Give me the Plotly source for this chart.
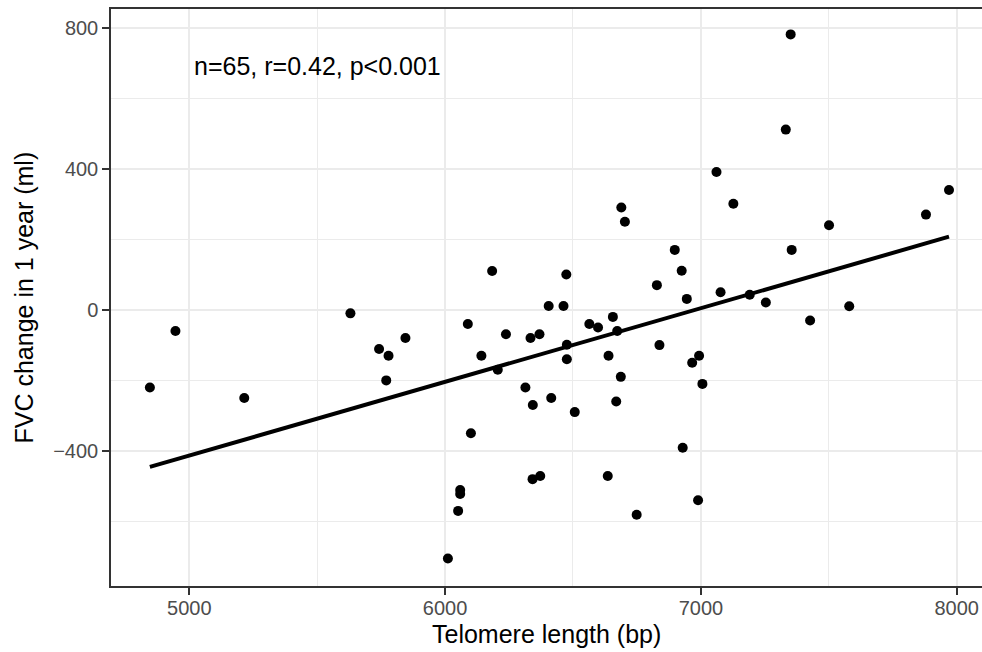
import numpy as np
import plotly.graph_objects as go

# Telomere length (bp)
telomere_bp = [
    4846, 4946, 5215, 5630, 5742, 5779, 5770, 5845, 6184, 6089,
    6238, 6142, 6206, 6474, 6405, 6463, 6334, 6369, 6476, 6476,
    6314, 6343, 6415, 6507, 6101, 6689, 6703, 6828, 6564, 6598,
    6656, 6673, 6639, 6687, 6669, 6838, 7006, 6929, 6342, 6372,
    6636, 6059, 6059, 6051, 6989, 6749, 6011, 7351, 7332, 7061,
    7127, 7501, 7880, 7970, 7355, 6898, 6925, 7077, 7191, 6945,
    7254, 7427, 7580, 6966, 6993,
]
# FVC change in 1 year (ml)
fvc_change_ml = [
    -220, -60, -250, -10, -111, -130, -200, -80, 110, -40,
    -69, -130, -170, 100, 11, 11, -80, -69, -99, -140,
    -220, -270, -250, -290, -350, 290, 250, 70, -40, -50,
    -20, -60, -130, -190, -260, -100, -210, -391, -480, -471,
    -471, -511, -522, -570, -540, -581, -705, 781, 511, 391,
    301, 240, 270, 340, 170, 170, 111, 50, 43, 31,
    21, -30, 10, -150, -130,
]
x_ticks = [5000, 6000, 7000, 8000]
x_tick_labels = ["5000", "6000", "7000", "8000"]
y_ticks = [-400, 0, 400, 800]
y_tick_labels = ["\u2212400", "0", "400", "800"]
stats_label = "n=65, r=0.42, p<0.001"

x = np.array(telomere_bp, dtype=float)
y = np.array(fvc_change_ml, dtype=float)
slope, intercept = np.polyfit(x, y, 1)
fit_x = np.array([x.min(), x.max()])
fit_y = slope * fit_x + intercept

FONT = "Liberation Sans, Arial, Helvetica, sans-serif"

fig = go.Figure()
fig.add_trace(go.Scatter(
    x=telomere_bp, y=fvc_change_ml, mode="markers",
    marker=dict(color="black", size=10, line=dict(width=0)),
    showlegend=False, hoverinfo="x+y",
))
fig.add_trace(go.Scatter(
    x=fit_x, y=fit_y, mode="lines",
    line=dict(color="black", width=4),
    showlegend=False, hoverinfo="skip",
))

fig.add_annotation(
    x=5500, y=690, xref="x", yref="y", text=stats_label, showarrow=False,
    font=dict(family=FONT, size=25, color="black"), xanchor="center", yanchor="middle",
)
# axis titles placed as paper annotations for precise positioning
fig.add_annotation(
    x=0.5, y=-0.083, xref="paper", yref="paper", text="Telomere length (bp)",
    showarrow=False, font=dict(family=FONT, size=25, color="black"),
    xanchor="center", yanchor="middle",
)
fig.add_annotation(
    x=-0.101, y=0.5, xref="paper", yref="paper", text="FVC change in 1 year (ml)",
    showarrow=False, textangle=-90, font=dict(family=FONT, size=25, color="black"),
    xanchor="center", yanchor="middle",
)

axis_common = dict(
    showgrid=True, gridcolor="#ebebeb", gridwidth=2,
    zeroline=False,
    showline=True, linecolor="#333333", linewidth=1.5,
    ticks="outside", ticklen=7, tickwidth=1.5, tickcolor="#333333",
    tickfont=dict(family=FONT, size=20, color="#4d4d4d"),
)

fig.update_xaxes(
    **axis_common,
    range=[4694, 8099],
    tickvals=x_ticks,
    ticktext=x_tick_labels,
    mirror=True,
    ticklabelstandoff=-4,
    minor=dict(tickvals=[4500, 5500, 6500, 7500], showgrid=True, gridcolor="#ebebeb", gridwidth=1, ticks=""),
)
fig.update_yaxes(
    **axis_common,
    range=[-783, 853],
    tickvals=y_ticks,
    ticktext=y_tick_labels,
    mirror=False,
    minor=dict(tickvals=[-600, -200, 200, 600], showgrid=True, gridcolor="#ebebeb", gridwidth=1, ticks=""),
)

fig.update_layout(
    width=982, height=652,
    margin=dict(l=111, r=0, t=9, b=66, autoexpand=False),
    paper_bgcolor="white", plot_bgcolor="white",
    font=dict(family=FONT),
)

fig.write_html(
    "out.html",
    config={"displayModeBar": False},
    post_script="document.body.style.margin='0';document.body.style.overflow='hidden';",
)
